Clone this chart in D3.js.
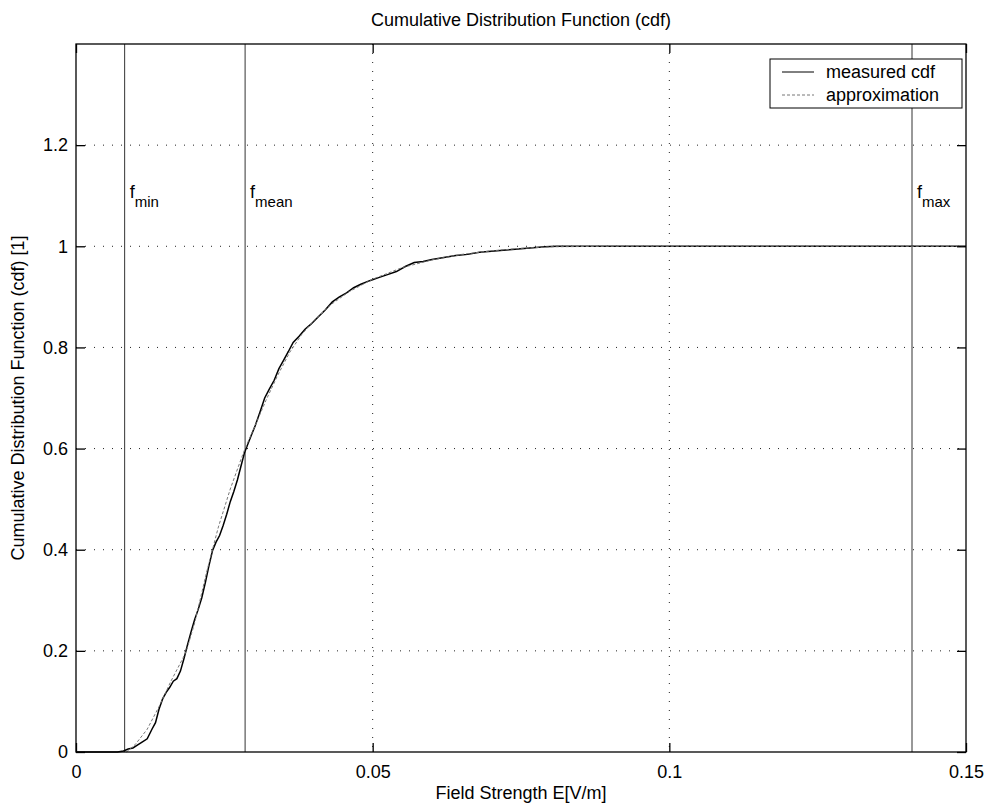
<!DOCTYPE html>
<html>
<head>
<meta charset="utf-8">
<script src="https://cdn.jsdelivr.net/npm/d3@7"></script>
<style>
  html, body { margin: 0; padding: 0; background: #fff; }
  svg { display: block; }
  text { font-family: "Liberation Sans", Arial, sans-serif; fill: #000; }
</style>
</head>
<body>
<script>
// ---------- data ----------
const measuredX = [0, 0.0070, 0.0080, 0.0088, 0.0096, 0.0104, 0.0112, 0.0120, 0.0128, 0.0134, 0.0140, 0.0146, 0.0152, 0.0158, 0.0164, 0.0170, 0.0176, 0.0182, 0.0188, 0.0194, 0.0200, 0.0206, 0.0212, 0.0218, 0.0224, 0.0230, 0.0236, 0.0242, 0.0248, 0.0254, 0.0260, 0.0266, 0.0272, 0.0278, 0.0284, 0.0290, 0.0296, 0.0302, 0.0310, 0.0318, 0.0326, 0.0334, 0.0342, 0.0350, 0.0358, 0.0366, 0.0376, 0.0386, 0.0396, 0.0408, 0.0420, 0.0432, 0.0444, 0.0456, 0.0468, 0.0480, 0.0495, 0.0510, 0.0525, 0.0540, 0.0555, 0.0570, 0.0585, 0.0600, 0.0620, 0.0640, 0.0660, 0.0680, 0.0700, 0.0730, 0.0760, 0.0790, 0.0810, 0.1500];
const measuredY = [0, 0, 0.002, 0.006, 0.008, 0.014, 0.020, 0.026, 0.045, 0.058, 0.085, 0.105, 0.118, 0.128, 0.140, 0.145, 0.160, 0.185, 0.212, 0.238, 0.262, 0.282, 0.305, 0.335, 0.368, 0.398, 0.415, 0.428, 0.448, 0.470, 0.495, 0.515, 0.538, 0.565, 0.592, 0.610, 0.628, 0.645, 0.672, 0.700, 0.718, 0.735, 0.758, 0.775, 0.792, 0.810, 0.822, 0.836, 0.846, 0.860, 0.874, 0.890, 0.900, 0.908, 0.918, 0.925, 0.932, 0.938, 0.944, 0.950, 0.960, 0.968, 0.970, 0.974, 0.978, 0.982, 0.984, 0.988, 0.990, 0.993, 0.996, 0.999, 1.0, 1.0];

const approxX = [0.0085, 0.010, 0.012, 0.014, 0.016, 0.018, 0.0186, 0.020, 0.022, 0.023, 0.024, 0.026, 0.028, 0.0285, 0.030, 0.032, 0.034, 0.036, 0.038, 0.040, 0.043, 0.046, 0.050, 0.055, 0.060, 0.065, 0.070, 0.075, 0.080, 0.090, 0.150];
const approxY = [0, 0.015, 0.045, 0.090, 0.140, 0.185, 0.200, 0.255, 0.355, 0.400, 0.445, 0.520, 0.585, 0.600, 0.640, 0.695, 0.745, 0.790, 0.825, 0.852, 0.885, 0.910, 0.935, 0.958, 0.973, 0.984, 0.991, 0.996, 0.999, 1.0, 1.0];

const xTicks = [0, 0.05, 0.1, 0.15];
const xTickLabels = ["0", "0.05", "0.1", "0.15"];
const yTicks = [0, 0.2, 0.4, 0.6, 0.8, 1, 1.2];
const yTickLabels = ["0", "0.2", "0.4", "0.6", "0.8", "1", "1.2"];

const markerNames = ["f", "f", "f"];
const markerSubs = ["min", "mean", "max"];
const markerX = [0.0082, 0.0285, 0.1409];
const markerLabelY = 1.1;

const legendLabels = ["measured cdf", "approximation"];

const titleText = "Cumulative Distribution Function (cdf)";
const xLabelText = "Field Strength E[V/m]";
const yLabelText = "Cumulative Distribution Function (cdf) [1]";

// ---------- layout ----------
const W = 985, H = 804;
const L = 76, R = 966, T = 44, B = 752;
const FS = 18;

const svg = d3.select("body").append("svg").attr("width", W).attr("height", H);

const x = d3.scaleLinear().domain([0, 0.15]).range([L, R]);
const y = d3.scaleLinear().domain([0, 1.4]).range([B, T]);

// grid (dotted)
const grid = svg.append("g").attr("stroke", "#222").attr("stroke-width", 1)
  .attr("stroke-dasharray", "1,8");
grid.selectAll("line.gy").data(yTicks.filter(v => v > 0)).enter().append("line")
  .attr("x1", L).attr("x2", R).attr("y1", d => y(d)).attr("y2", d => y(d));
grid.selectAll("line.gx").data(xTicks.filter(v => v > 0 && v < 0.15)).enter().append("line")
  .attr("y1", T).attr("y2", B).attr("x1", d => x(d)).attr("x2", d => x(d));

// vertical marker lines
svg.append("g").selectAll("line").data(markerX).enter().append("line")
  .attr("x1", d => x(d)).attr("x2", d => x(d)).attr("y1", T).attr("y2", B)
  .attr("stroke", "#333").attr("stroke-width", 1);

// marker labels
markerX.forEach((mx, i) => {
  const t = svg.append("text").attr("x", x(mx) + 5).attr("y", y(markerLabelY) + 2)
    .attr("font-size", FS);
  t.append("tspan").text(markerNames[i]);
  t.append("tspan").attr("dy", 9).attr("font-size", 15).text(markerSubs[i]);
});

// lines
const lineGen = d3.line().x(d => x(d[0])).y(d => y(d[1]));
const approxData = approxX.map((v, i) => [v, approxY[i]]);
const measData = measuredX.map((v, i) => [v, measuredY[i]]);

svg.append("path").datum(measData).attr("d", lineGen)
  .attr("fill", "none").attr("stroke", "#000").attr("stroke-width", 1.5);
svg.append("path").datum(approxData).attr("d", lineGen)
  .attr("fill", "none").attr("stroke", "#777").attr("stroke-width", 1)
  .attr("stroke-dasharray", "3,2");

// axes box
svg.append("rect").attr("x", L).attr("y", T).attr("width", R - L).attr("height", B - T)
  .attr("fill", "none").attr("stroke", "#000").attr("stroke-width", 1.3);

// axes with inward ticks
const tickLen = 9;
const xAxisB = d3.axisBottom(x).tickValues(xTicks).tickSizeInner(-tickLen).tickSizeOuter(0)
  .tickPadding(tickLen + 4).tickFormat((d, i) => xTickLabels[i]);
const gxb = svg.append("g").attr("transform", `translate(0,${B})`).call(xAxisB);
const xAxisT = d3.axisTop(x).tickValues(xTicks).tickSizeInner(-tickLen).tickSizeOuter(0).tickFormat("");
const gxt = svg.append("g").attr("transform", `translate(0,${T})`).call(xAxisT);
const yAxisL = d3.axisLeft(y).tickValues(yTicks).tickSizeInner(-tickLen).tickSizeOuter(0)
  .tickPadding(tickLen - 1).tickFormat((d, i) => yTickLabels[i]);
const gyl = svg.append("g").attr("transform", `translate(${L},0)`).call(yAxisL);
const yAxisR = d3.axisRight(y).tickValues(yTicks).tickSizeInner(-tickLen).tickSizeOuter(0).tickFormat("");
const gyr = svg.append("g").attr("transform", `translate(${R},0)`).call(yAxisR);

[gxb, gxt, gyl, gyr].forEach(g => {
  g.select(".domain").remove();
  g.selectAll(".tick line").attr("stroke", "#000").attr("stroke-width", 1.3);
  g.selectAll(".tick text").attr("font-size", FS).attr("font-family", "Liberation Sans, Arial, sans-serif").attr("fill", "#000");
});

// legend
const lgX = 770, lgY = 59, lgW = 192, lgH = 49;
const lg = svg.append("g");
lg.append("rect").attr("x", lgX).attr("y", lgY).attr("width", lgW).attr("height", lgH)
  .attr("fill", "#fff").attr("stroke", "#000").attr("stroke-width", 1);
legendLabels.forEach((lab, i) => {
  const cy = lgY + 13 + i * 23;
  lg.append("line").attr("x1", lgX + 12).attr("x2", lgX + 44).attr("y1", cy).attr("y2", cy)
    .attr("stroke", i === 0 ? "#000" : "#777").attr("stroke-width", 1)
    .attr("stroke-dasharray", i === 0 ? null : "3,2");
  lg.append("text").attr("x", lgX + 56).attr("y", cy + 6).attr("font-size", FS).text(lab);
});

// titles
svg.append("text").attr("x", (L + R) / 2).attr("y", 26).attr("text-anchor", "middle")
  .attr("font-size", FS).text(titleText);
svg.append("text").attr("x", (L + R) / 2).attr("y", 799).attr("text-anchor", "middle")
  .attr("font-size", FS).text(xLabelText);
svg.append("text").attr("transform", `translate(24,${(T + B) / 2}) rotate(-90)`)
  .attr("text-anchor", "middle").attr("font-size", FS).text(yLabelText);
</script>
</body>
</html>
